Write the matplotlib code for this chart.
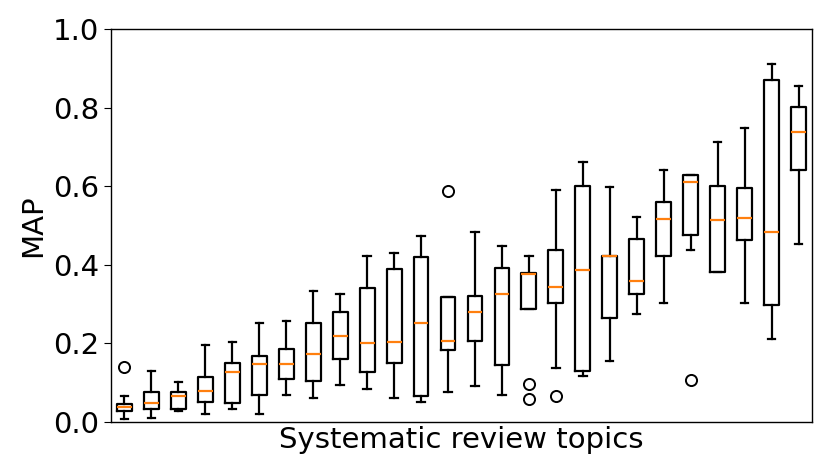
import matplotlib
matplotlib.use("Agg")
import matplotlib.pyplot as plt

whislo = [0.007, 0.011, 0.029, 0.020, 0.033, 0.021, 0.069, 0.060, 0.094, 0.083,
          0.062, 0.050, 0.077, 0.091, 0.068, 0.287, 0.137, 0.118, 0.155, 0.275,
          0.304, 0.437, 0.383, 0.302, 0.211, 0.453]
q1 = [0.029, 0.033, 0.034, 0.052, 0.049, 0.069, 0.109, 0.105, 0.160, 0.127,
      0.150, 0.067, 0.183, 0.205, 0.145, 0.287, 0.304, 0.130, 0.264, 0.326,
      0.423, 0.476, 0.383, 0.463, 0.297, 0.642]
med = [0.038, 0.049, 0.065, 0.079, 0.128, 0.147, 0.147, 0.173, 0.219, 0.201,
       0.204, 0.251, 0.206, 0.279, 0.325, 0.376, 0.345, 0.386, 0.423, 0.358,
       0.516, 0.611, 0.514, 0.520, 0.483, 0.738]
q3 = [0.046, 0.077, 0.077, 0.115, 0.150, 0.169, 0.185, 0.253, 0.281, 0.340,
      0.390, 0.419, 0.319, 0.321, 0.393, 0.380, 0.437, 0.601, 0.423, 0.465,
      0.560, 0.628, 0.600, 0.595, 0.872, 0.801]
whishi = [0.067, 0.130, 0.102, 0.196, 0.204, 0.251, 0.257, 0.333, 0.327, 0.422,
          0.431, 0.473, 0.319, 0.485, 0.449, 0.423, 0.592, 0.661, 0.598, 0.522,
          0.642, 0.628, 0.714, 0.749, 0.912, 0.855]
fliers = [[0.140], [], [], [], [], [], [], [], [], [],
          [], [], [0.587], [], [], [0.097, 0.058], [0.067], [], [], [],
          [], [0.107], [], [], [], []]

yticks = [0.0, 0.2, 0.4, 0.6, 0.8, 1.0]

stats = []
for i in range(len(med)):
    stats.append(dict(whislo=whislo[i], q1=q1[i], med=med[i], q3=q3[i],
                      whishi=whishi[i], fliers=fliers[i]))

fig = plt.figure(figsize=(8.3, 4.75), dpi=100)
ax = fig.add_axes([111 / 830, 53 / 475, 701 / 830, 392.7 / 475])
ax.bxp(stats, showfliers=True, widths=0.55,
       boxprops=dict(linewidth=1.6, color='black'),
       whiskerprops=dict(linewidth=1.6, color='black'),
       capprops=dict(linewidth=1.6, color='black'),
       medianprops=dict(linewidth=1.6, color='#ff7f0e'),
       flierprops=dict(marker='o', markersize=8, markerfacecolor='none',
                       markeredgecolor='black', markeredgewidth=1.4))
ax.set_ylim(0, 1.0)
ax.set_xlim(0.5, len(med) + 0.5)
ax.set_yticks(yticks)
ax.set_yticklabels([f"{t:.1f}" for t in yticks])
ax.set_xticks([])
ax.tick_params(axis='y', labelsize=21, length=5)
ax.set_ylabel("MAP", fontsize=21)
ax.set_xlabel("Systematic review topics", fontsize=21, labelpad=3)
for s in ax.spines.values():
    s.set_linewidth(1.0)
fig.savefig("out.png", dpi=100)
